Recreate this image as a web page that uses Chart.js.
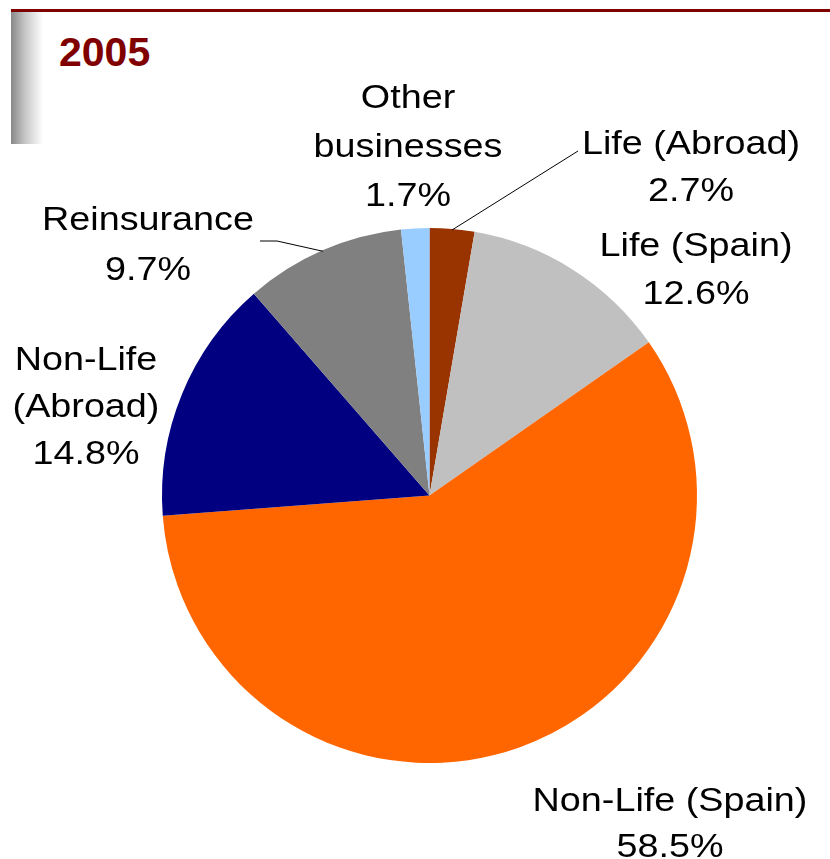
<!DOCTYPE html>
<html>
<head>
<meta charset="utf-8">
<script src="https://cdn.jsdelivr.net/npm/chart.js@4/dist/chart.umd.min.js"></script>
<style>
  html, body { margin: 0; padding: 0; background: #fff; }
  #wrap { position: relative; width: 830px; height: 859px; overflow: hidden; }
  #topline { position: absolute; left: 11px; top: 9px; width: 819px; height: 3px; background: #800000; }
  #sidebar { position: absolute; left: 11px; top: 12px; width: 32px; height: 132px;
    background: linear-gradient(to right, #888 0%, #c8c8c8 45%, #fff 100%); }
  #year { position: absolute; left: 59px; top: 28px; font: bold 41px "Liberation Sans", Arial, sans-serif; color: #800000; line-height: 48px; }
  canvas { position: absolute; left: 0; top: 0; }
</style>
</head>
<body>
<div id="wrap">
  <div id="topline"></div>
  <div id="sidebar"></div>
  <div id="year">2005</div>
  <canvas id="myChart" width="830" height="859"></canvas>
</div>
<script>
const categories = [
  "Life (Abroad)",
  "Life (Spain)",
  "Non-Life (Spain)",
  "Non-Life (Abroad)",
  "Reinsurance",
  "Other businesses",
];
const shares = [2.7, 12.6, 58.5, 14.8, 9.7, 1.7];
const colors = ["#993300", "#c0c0c0", "#ff6600", "#000080", "#808080", "#99ccff"];

// how each label breaks into lines, and where its first baseline sits
const labelLines = [
  ["Life (Abroad)"],
  ["Life (Spain)"],
  ["Non-Life (Spain)"],
  ["Non-Life", "(Abroad)"],
  ["Reinsurance"],
  ["Other", "businesses"],
];
const labelPos = [
  { x: 691, y: 154, lh: 47 },
  { x: 696, y: 256, lh: 48 },
  { x: 670, y: 811, lh: 46 },
  { x: 86, y: 370, lh: 47 },
  { x: 148, y: 230, lh: 50 },
  { x: 408, y: 108, lh: 49 },
];
// leader lines: slice index -> extra points after the arc anchor
const leaders = {
  0: [[578, 151]],
  4: [[277, 241], [260, 241]],
};

const labelPlugin = {
  id: "sliceLabels",
  afterDraw(chart) {
    const ctx = chart.ctx;
    const arcs = chart.getDatasetMeta(0).data;
    ctx.save();
    ctx.strokeStyle = "#000";
    ctx.lineWidth = 1;
    Object.keys(leaders).forEach((k) => {
      const arc = arcs[k];
      const mid = (arc.startAngle + arc.endAngle) / 2;
      const r = arc.outerRadius - 1;
      ctx.beginPath();
      ctx.moveTo(arc.x + Math.cos(mid) * r, arc.y + Math.sin(mid) * r);
      leaders[k].forEach((p) => ctx.lineTo(p[0], p[1]));
      ctx.stroke();
    });
    ctx.fillStyle = "#000";
    ctx.font = '34px "Liberation Sans", Arial, sans-serif';
    ctx.textAlign = "center";
    ctx.textBaseline = "alphabetic";
    labelLines.forEach((lines, i) => {
      const all = lines.concat([shares[i].toFixed(1) + "%"]);
      const p = labelPos[i];
      all.forEach((t, j) => {
        ctx.save();
        ctx.translate(p.x, p.y + j * p.lh);
        ctx.scale(1.11, 1);
        ctx.fillText(t, 0, 0);
        ctx.restore();
      });
    });
    ctx.restore();
  },
};

const config = {
  type: "pie",
  data: {
    labels: categories,
    datasets: [
      {
        data: shares,
        backgroundColor: colors,
        borderWidth: 0,
        hoverOffset: 0,
      },
    ],
  },
  options: {
    responsive: false,
    animation: false,
    layout: { padding: { left: 162, top: 228, right: 133, bottom: 96 } },
    plugins: {
      legend: { display: false },
      tooltip: { enabled: false },
      title: { display: false },
    },
  },
  plugins: [labelPlugin],
};

const myChart = new Chart(document.getElementById("myChart"), config);
</script>
</body>
</html>
